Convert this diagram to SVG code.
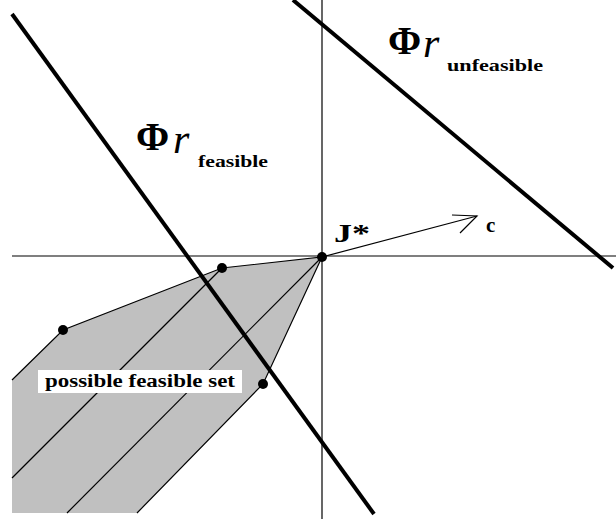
<svg xmlns="http://www.w3.org/2000/svg" width="616" height="519" viewBox="0 0 616 519">
<style>
.thin{stroke:#000;stroke-width:1.2;fill:none}
.thick{stroke:#000;stroke-width:4;fill:none}
.dot{fill:#000}
.lbl{font-family:"Liberation Serif",serif;font-weight:bold;fill:#000}
.r{font-family:"Liberation Serif",serif;font-style:italic;fill:#000}
</style>
<rect width="616" height="519" fill="#fff"/>
<g id="feasible-set">
<polygon points="322,257 222,268 63,330 12,380 12,513 137,513 263,384" fill="#c0c0c0" stroke="none"/>
<polyline class="thin" points="12,380 63,330 222,268 322,257 263,384 137,513"/>
<line class="thin" x1="222" y1="268" x2="12" y2="478"/>
<line class="thin" x1="322" y1="257" x2="67" y2="513"/>
</g>
<g id="axes">
<line class="thin" x1="12" y1="256" x2="616" y2="256"/>
<line class="thin" x1="322" y1="0" x2="322" y2="519"/>
</g>
<g id="connectors">
<line class="thick" x1="12" y1="14" x2="374" y2="514"/>
<line class="thick" x1="293" y1="0" x2="613" y2="268"/>
<line class="thin" x1="322" y1="257" x2="477" y2="216"/>
<polyline class="thin" points="452,215 477,216 460,233"/>
</g>
<g id="points">
<circle class="dot" cx="322" cy="257" r="5"/>
<circle class="dot" cx="222" cy="268" r="5"/>
<circle class="dot" cx="63" cy="330" r="5"/>
<circle class="dot" cx="263" cy="384" r="5"/>
</g>
<g id="label-set">
<rect x="38" y="370" width="204" height="23" fill="#fff"/>
<text class="lbl" x="45" y="387" font-size="18" textLength="190" lengthAdjust="spacingAndGlyphs">possible feasible set</text>
</g>
<g id="label-jstar"><text class="lbl" x="334" y="242" font-size="26" textLength="36" lengthAdjust="spacingAndGlyphs">J*</text></g>
<g id="label-c"><text class="lbl" x="486" y="232" font-size="21">c</text></g>
<g id="label-feasible">
<text class="lbl" x="136" y="150" font-size="40">Φ</text>
<text class="r" x="173" y="153" font-size="42">r</text>
<text class="lbl" x="198" y="167" font-size="17" textLength="70" lengthAdjust="spacingAndGlyphs">feasible</text>
</g>
<g id="label-unfeasible">
<text class="lbl" x="388" y="54" font-size="40">Φ</text>
<text class="r" x="423" y="57" font-size="42">r</text>
<text class="lbl" x="447" y="71" font-size="17" textLength="96" lengthAdjust="spacingAndGlyphs">unfeasible</text>
</g>
</svg>
